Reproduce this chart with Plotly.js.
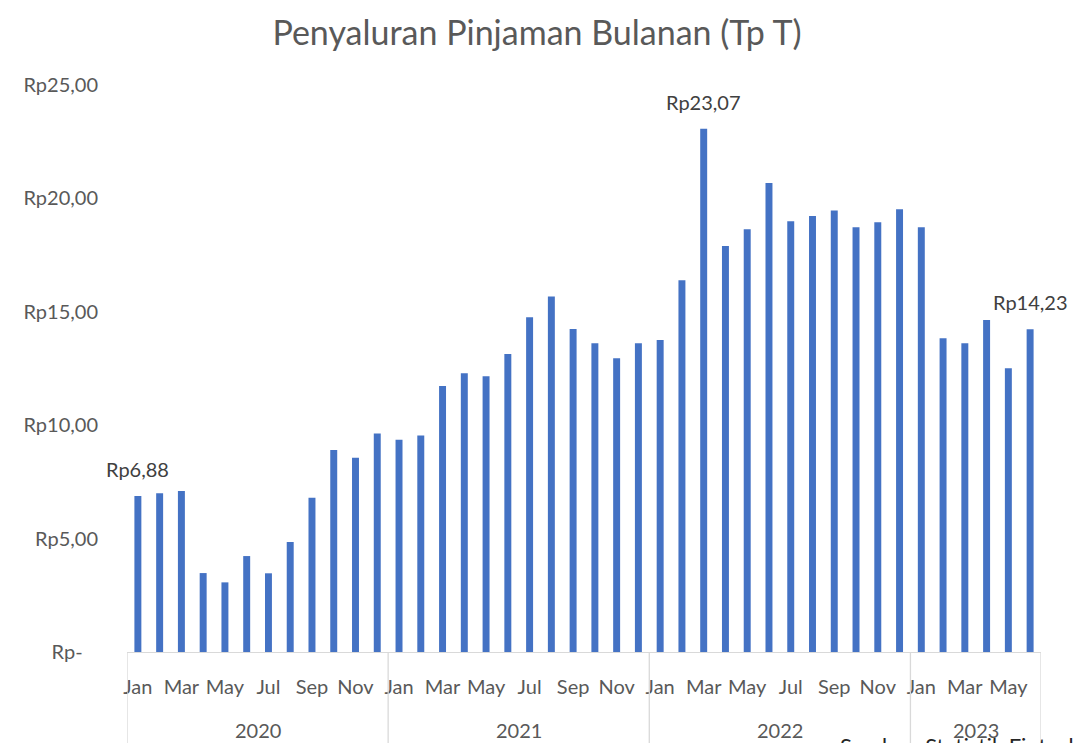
<!DOCTYPE html>
<html>
<head>
<meta charset="utf-8">
<script src="https://cdn.plot.ly/plotly-3.0.1.min.js"></script>
<style>html,body{margin:0;padding:0;background:#fff;overflow:hidden}#chart{width:1074px;height:743px}</style>
</head>
<body>
<div id="chart"></div>
<script>
const months = ["Jan","Feb","Mar","Apr","May","Jun","Jul","Aug","Sep","Oct","Nov","Dec"];
const years = ["2020","2021","2022","2023"];
const monthsPerYear = [12, 12, 12, 6];
const values = [
  6.88, 7.00, 7.10, 3.48, 3.07, 4.23, 3.47, 4.85, 6.80, 8.91, 8.57, 9.63,
  9.36, 9.55, 11.73, 12.29, 12.16, 13.14, 14.76, 15.67, 14.24, 13.61, 12.95, 13.61,
  13.76, 16.39, 23.07, 17.90, 18.64, 20.68, 18.99, 19.22, 19.47, 18.73, 18.95, 19.52,
  18.73, 13.83, 13.61, 14.64, 12.51, 14.23
];
const labeledIdx = [0, 26, 41];
const yTickVals = [0, 5, 10, 15, 20, 25];
const yTickText = ["Rp-\u00a0\u00a0\u00a0", "Rp5,00", "Rp10,00", "Rp15,00", "Rp20,00", "Rp25,00"];
const sourceText = "Sumber: Statistik Fintech Lending OJK";

const xIdx = values.map((v, i) => i);
const monthLabels = [];
years.forEach((y, yi) => { for (let m = 0; m < monthsPerYear[yi]; m++) monthLabels.push(months[m]); });
const tickVals = xIdx.filter(i => ["Jan","Mar","May","Jul","Sep","Nov"].includes(monthLabels[i]));
const tickText = tickVals.map(i => monthLabels[i]);

const fontFam = "Lato, 'Liberation Sans', sans-serif";
const grey = "#595959";

const annotations = labeledIdx.map(i => ({
  x: i, y: values[i], xref: 'x', yref: 'y', showarrow: false, yanchor: 'bottom', yshift: 13,
  text: 'Rp' + values[i].toFixed(2).replace('.', ','),
  font: {family: fontFam, size: 20, color: "#404040"}
}));
const shapes = [];
let start = 0;
const bounds = [-0.5];
years.forEach((y, yi) => {
  const end = start + monthsPerYear[yi];
  bounds.push(end - 0.5);
  annotations.push({
    x: (start + end - 1) / 2, xref: 'x', y: -0.138, yref: 'paper', yanchor: 'middle',
    showarrow: false, text: y, font: {family: fontFam, size: 20, color: grey}
  });
  start = end;
});
bounds.forEach(b => shapes.push({
  type: 'line', xref: 'x', yref: 'paper', x0: b, x1: b, y0: 0, y1: -0.25,
  line: {color: '#d9d9d9', width: 1.3}
}));
annotations.push({
  x: 0.778, xref: 'paper', y: -0.138, yref: 'paper', xanchor: 'left', yanchor: 'top',
  showarrow: false, text: sourceText, font: {family: fontFam, size: 22, color: "#262626"}
});

Plotly.newPlot('chart', [{
  type: 'bar', x: xIdx, y: values, width: 0.32,
  marker: {color: '#4472C4', line: {width: 0}},
  hoverinfo: 'y'
}], {
  width: 1074, height: 743,
  margin: {l: 127, r: 33, t: 85, b: 91},
  paper_bgcolor: '#fff', plot_bgcolor: '#fff',
  showlegend: false,
  title: {text: 'Penyaluran Pinjaman Bulanan (Tp T)', x: 0.5, xanchor: 'center', xref: 'container',
          y: 1 - 33/743, yref: 'container', yanchor: 'middle',
          font: {family: fontFam, size: 34, color: grey}},
  xaxis: {range: [-0.5, 41.5], tickvals: tickVals, ticktext: tickText, tickangle: 0,
          showgrid: false, zeroline: false, showline: true, linecolor: '#d9d9d9', linewidth: 1.3,
          ticks: 'outside', ticklen: 17, tickcolor: 'rgba(0,0,0,0)',
          tickfont: {family: fontFam, size: 20, color: grey}, fixedrange: true},
  yaxis: {range: [0, 25], tickvals: yTickVals, ticktext: yTickText,
          showgrid: false, zeroline: false, showline: false,
          ticks: 'outside', ticklen: 24, tickcolor: 'rgba(0,0,0,0)',
          tickfont: {family: fontFam, size: 20, color: grey}, fixedrange: true},
  annotations: annotations, shapes: shapes
}, {displayModeBar: false, staticPlot: true});
</script>
</body>
</html>
